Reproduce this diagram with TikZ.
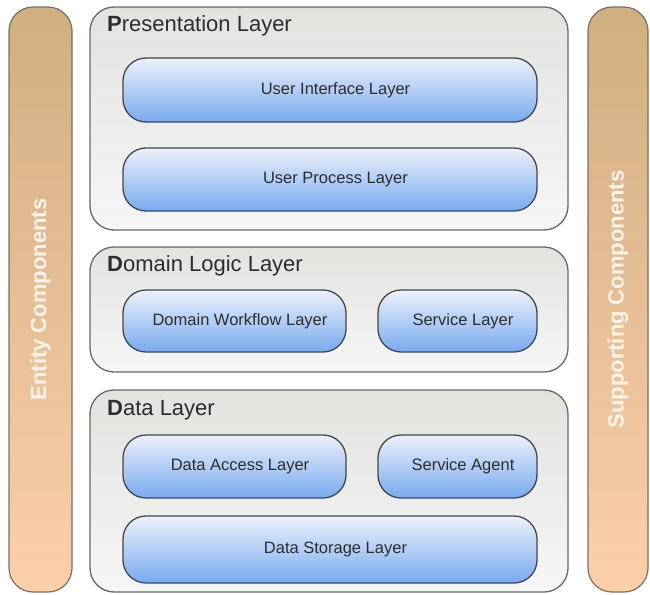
\documentclass[tikz,border=0pt]{standalone}
\usepackage{fontspec}
\setmainfont{Liberation Sans}
\definecolor{bartop}{RGB}{208,175,128}
\definecolor{barbot}{RGB}{251,207,170}
\definecolor{barline}{RGB}{125,112,98}
\definecolor{laytop}{RGB}{226,226,223}
\definecolor{laybot}{RGB}{246,246,246}
\definecolor{layline}{RGB}{105,105,105}
\definecolor{bluetop}{RGB}{236,241,251}
\definecolor{bluebot}{RGB}{120,170,240}
\definecolor{blueline}{RGB}{70,70,70}
\definecolor{inktext}{RGB}{45,45,45}
\definecolor{bartext}{RGB}{252,244,236}
\tikzset{
  sidebar/.style={draw=barline, line width=1.2pt, rounded corners=24pt,
    top color=bartop, bottom color=barbot},
  layerbox/.style={draw=layline, line width=1.3pt, rounded corners=24pt,
    top color=laytop, bottom color=laybot},
  bluebox/.style={draw=blueline, line width=1.3pt, rounded corners=23pt,
    top color=bluetop, bottom color=bluebot, text=inktext,
    font=\fontsize{16.5}{19}\selectfont,
    execute at begin node={\hspace*{11pt}}},
  layertitle/.style={anchor=base west, text=inktext, inner sep=0pt,
    font=\fontsize{22}{26}\selectfont},
  bartitle/.style={rotate=90, text=bartext,
    font=\fontsize{22}{26}\selectfont\bfseries}
}
\begin{document}
\begin{tikzpicture}[x=1pt, y=-1pt]
  \useasboundingbox (0,0) rectangle (650,594);

  % vertical cross-cutting bars
  \node[sidebar, minimum width=63pt, minimum height=585pt] (entity) at (40.5,299.5) {};
  \node[bartitle] (entityt) at (entity.center) {Entity Components};
  \node[sidebar, minimum width=60pt, minimum height=585pt] (support) at (618,299.5) {};
  \node[bartitle] (supportt) at (support.center) {Supporting Components};

  % presentation layer
  \node[layerbox, minimum width=478pt, minimum height=223pt] (pres) at (329,118.5) {};
  \node[layertitle] (prest) at (107,32) {{\bfseries P}resentation Layer};
  \node[bluebox, minimum width=414pt, minimum height=64pt] (ui) at (330,90) {User Interface Layer};
  \node[bluebox, minimum width=414pt, minimum height=63pt] (up) at (330,179.5) {User Process Layer};

  % domain logic layer
  \node[layerbox, minimum width=478pt, minimum height=125pt] (dom) at (329,309.5) {};
  \node[layertitle] (domt) at (107,271) {{\bfseries D}omain Logic Layer};
  \node[bluebox, minimum width=223pt, minimum height=62pt] (dw) at (234.5,321) {Domain Workflow Layer};
  \node[bluebox, minimum width=159pt, minimum height=62pt] (sl) at (457.5,321) {Service Layer};

  % data layer
  \node[layerbox, minimum width=478pt, minimum height=202pt] (data) at (329,491) {};
  \node[layertitle] (datat) at (107,415) {{\bfseries D}ata Layer};
  \node[bluebox, minimum width=223pt, minimum height=63pt] (da) at (234.5,466.5) {Data Access Layer};
  \node[bluebox, minimum width=159pt, minimum height=63pt] (sa) at (457.5,466.5) {Service Agent};
  \node[bluebox, minimum width=414pt, minimum height=67pt] (ds) at (330,549.5) {Data Storage Layer};
\end{tikzpicture}
\end{document}
